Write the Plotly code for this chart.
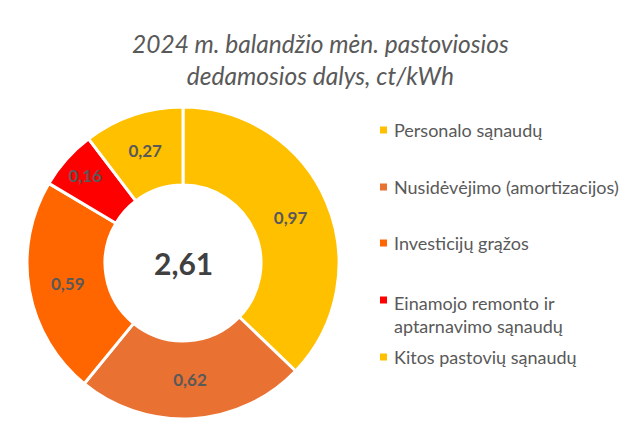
import plotly.graph_objects as go

labels = ["Personalo sąnaudų", "Nusidėvėjimo (amortizacijos)", "Investicijų grąžos",
          "Einamojo remonto ir<br>aptarnavimo sąnaudų", "Kitos pastovių sąnaudų"]
values = [0.97, 0.62, 0.59, 0.16, 0.27]
colors = ["#FFC000", "#E97132", "#FF6600", "#FF0000", "#FFC000"]
legend_y = [130, 187, 243, 314, 357]  # pixel centres of legend entries
marker_y = [130, 187, 243, 300, 357]
total_label = "2,61"
title = "2024 m. balandžio mėn. pastoviosios<br>dedamosios dalys, ct/kWh"

W, H = 625, 421
FONT = "Lato, 'Open Sans', sans-serif"
GRAY = "#595959"

fig = go.Figure(go.Pie(
    labels=labels, values=values, hole=0.5, sort=False, direction="clockwise",
    rotation=0, marker=dict(colors=colors, line=dict(color="white", width=3)),
    texttemplate="%{value:.2f}", textposition="inside", insidetextorientation="horizontal",
    textfont=dict(family=FONT, size=17, color=GRAY, weight="bold"),
    domain=dict(x=[27 / W, 339 / W], y=[1 - 419 / H, 1 - 107 / H]),
    showlegend=False, hoverinfo="label+value",
))

annotations = [
    dict(text=title, x=320 / W, y=1 - 59 / H, xref="paper", yref="paper",
         showarrow=False, font=dict(family=FONT, size=24.5, color=GRAY, style="italic"),
         xanchor="center", yanchor="middle", align="center"),
    dict(text=total_label, x=183 / W, y=1 - 263 / H, xref="paper", yref="paper",
         showarrow=False, font=dict(family=FONT, size=30, color="#404040", weight="bold"),
         xanchor="center", yanchor="middle"),
]
shapes = []
for lab, yy in zip(labels, legend_y):
    annotations.append(dict(text=lab, x=392 / W, y=1 - yy / H, xref="paper", yref="paper",
                            showarrow=False, xanchor="left", yanchor="middle", align="left",
                            font=dict(family=FONT, size=18, color=GRAY)))
for col, yy in zip(colors, marker_y):
    shapes.append(dict(type="rect", xref="paper", yref="paper",
                       x0=380 / W, x1=387 / W, y0=1 - (yy + 3.5) / H, y1=1 - (yy - 3.5) / H,
                       fillcolor=col, line=dict(width=0)))

fig.update_layout(width=W, height=H, margin=dict(l=0, r=0, t=0, b=0),
                  paper_bgcolor="white", plot_bgcolor="white", separators=", ",
                  annotations=annotations, shapes=shapes)
fig.write_html("out.html", config={"displayModeBar": False},
               post_script="document.body.style.margin='0';")
